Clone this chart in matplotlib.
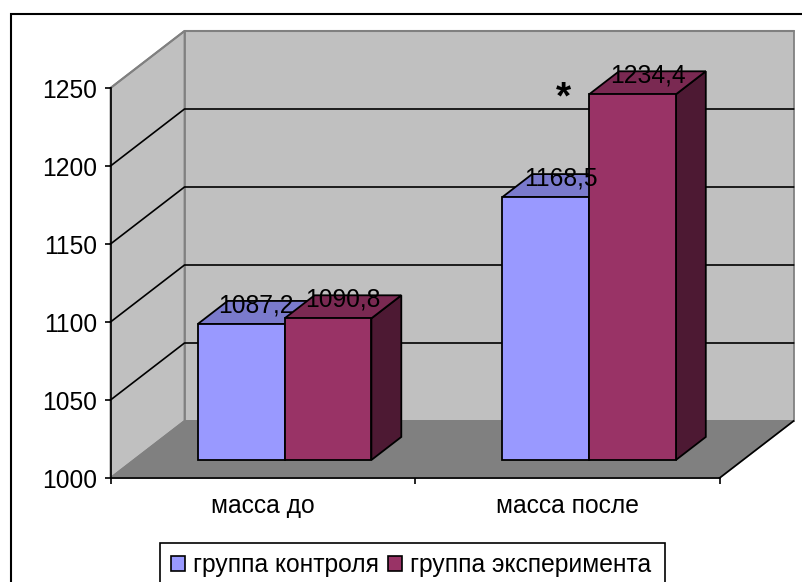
import matplotlib
matplotlib.use("Agg")
import matplotlib.pyplot as plt
from matplotlib.patches import Polygon, Rectangle

plt.rcParams['font.family'] = ['Liberation Sans', 'DejaVu Sans']

categories = ["масса до", "масса после"]
series_names = ["группа контроля", "группа эксперимента"]
control = [1087.2, 1168.5]
experiment = [1090.8, 1234.4]
labels_control = ["1087,2", "1168,5"]
labels_experiment = ["1090,8", "1234,4"]
yticks = [1000, 1050, 1100, 1150, 1200, 1250]

W, H = 802, 582
left, right, bottom, top = 110.5, 719.5, 478, 88
depth_x, depth_y = 74, 57  # pixels, full depth of the box
fs = 17.7

fig = plt.figure(figsize=(W / 100, H / 100), dpi=100)
fig.patch.set_facecolor("white")
ax = fig.add_axes([left / W, 1 - bottom / H, (right - left) / W, (bottom - top) / H])
ax.set_xlim(0, 2)
ax.set_ylim(1000, 1250)
ax.patch.set_visible(False)

px_x = 2 / (right - left)
px_y = 250 / (bottom - top)


def pt(x, v, d=0):
    # d = depth 0..1, oblique projection
    return (x + d * depth_x * px_x, v + d * depth_y * px_y)


def face(points, fc, ec, lw=1.3, z=2):
    ax.add_patch(Polygon(points, closed=True, facecolor=fc, edgecolor=ec, lw=lw,
                         zorder=z, clip_on=False, joinstyle="miter"))


# walls and floor
face([pt(0, 1000), pt(0, 1250), pt(0, 1250, 1), pt(0, 1000, 1)], "#C0C0C0", "#808080", 1.3, 1)
face([pt(0, 1000, 1), pt(0, 1250, 1), pt(2, 1250, 1), pt(2, 1000, 1)], "#C0C0C0", "#808080", 1.3, 1)
face([pt(0, 1000), pt(2, 1000), pt(2, 1000, 1), pt(0, 1000, 1)], "#808080", "#808080", 1.3, 1)

# gridlines
for t in yticks[1:-1]:
    xs, ys = zip(pt(0, t), pt(0, t, 1), pt(2, t, 1))
    ax.plot(xs, ys, color="black", lw=1.2, zorder=1.5, clip_on=False)
xs, ys = zip(pt(0, 1250), pt(0, 1250, 1), pt(2, 1250, 1))
ax.plot(xs, ys, color="#808080", lw=1.5, zorder=1.5, clip_on=False)

xs, ys = zip(pt(2, 1000), pt(2, 1000, 1))
ax.plot(xs, ys, color="black", lw=1.2, zorder=1.6, clip_on=False)

# bars
d0, d1 = 0.316, 0.72
offset, bar_w = 0.21, 0.285


def bar3d(x, v, fc, top_c, side_c, z):
    face([pt(x + bar_w, 1000, d0), pt(x + bar_w, v, d0), pt(x + bar_w, v, d1), pt(x + bar_w, 1000, d1)],
         side_c, "black", z=z)
    face([pt(x, v, d0), pt(x + bar_w, v, d0), pt(x + bar_w, v, d1), pt(x, v, d1)],
         top_c, "black", z=z)
    face([pt(x, 1000, d0), pt(x + bar_w, 1000, d0), pt(x + bar_w, v, d0), pt(x, v, d0)],
         fc, "black", z=z + 0.1)


for i in range(2):
    x = i + offset
    bar3d(x, control[i], "#9999FF", "#7A7ACC", "#4D4D80", 3)
    bar3d(x + bar_w, experiment[i], "#993366", "#7A2952", "#4D1933", 3.5)
    for xx, v, s in [(x, control[i], labels_control[i]), (x + bar_w, experiment[i], labels_experiment[i])]:
        cx, cy = pt(xx + bar_w / 2, v, (d0 + d1) / 2)
        ax.annotate(s, (cx, cy), xytext=(0, 5), textcoords="offset points", ha="center", va="center",
                    fontsize=fs, color="black", zorder=6, annotation_clip=False)

ax.annotate("*", pt(1 + offset + bar_w, experiment[1], d0), xytext=(-18.7, -3), textcoords="offset points",
            ha="center", va="center", fontsize=28, fontweight="bold", zorder=6, annotation_clip=False)

# axes and ticks
for s in ["top", "right"]:
    ax.spines[s].set_visible(False)
for s in ["left", "bottom"]:
    ax.spines[s].set_linewidth(1.2)
    ax.spines[s].set_zorder(2.5)
ax.set_yticks(yticks)
ax.set_xticks([0, 1, 2])
ax.set_xticklabels([])
ax.set_xticks([0.5, 1.5], categories, minor=True)
ax.tick_params(axis="y", length=4, width=1.2, labelsize=fs, pad=5.8)
ax.tick_params(axis="x", which="major", length=4, width=1.2)
ax.tick_params(axis="x", which="minor", length=0, labelsize=fs, pad=11.5)

# outer border of the chart area, it runs past the right and bottom of the picture
fig.add_artist(Rectangle((11 / W, 1 - 620 / H), 840 / W, 606 / H, transform=fig.transFigure,
                         facecolor="none", edgecolor="black", lw=1.5, zorder=0))
# legend box is cut by the bottom edge too
fig.add_artist(Rectangle((160 / W, 1 - 600 / H), 505 / W, 57 / H, transform=fig.transFigure,
                         facecolor="white", edgecolor="black", lw=1.2, zorder=1))

handles = [Rectangle((0, 0), 1, 1, facecolor="#9999FF", edgecolor="black", lw=1.2),
           Rectangle((0, 0), 1, 1, facecolor="#993366", edgecolor="black", lw=1.2)]
leg = fig.legend(handles, series_names, loc="center", bbox_to_anchor=(411 / W, 1 - 565 / H),
                 ncol=2, fontsize=fs, frameon=False,
                 handlelength=0.57, handleheight=0.57, handletextpad=0.3, columnspacing=0.4,
                 borderpad=0, borderaxespad=0)
leg.set_zorder(2)

fig.savefig("out.png", dpi=100)
